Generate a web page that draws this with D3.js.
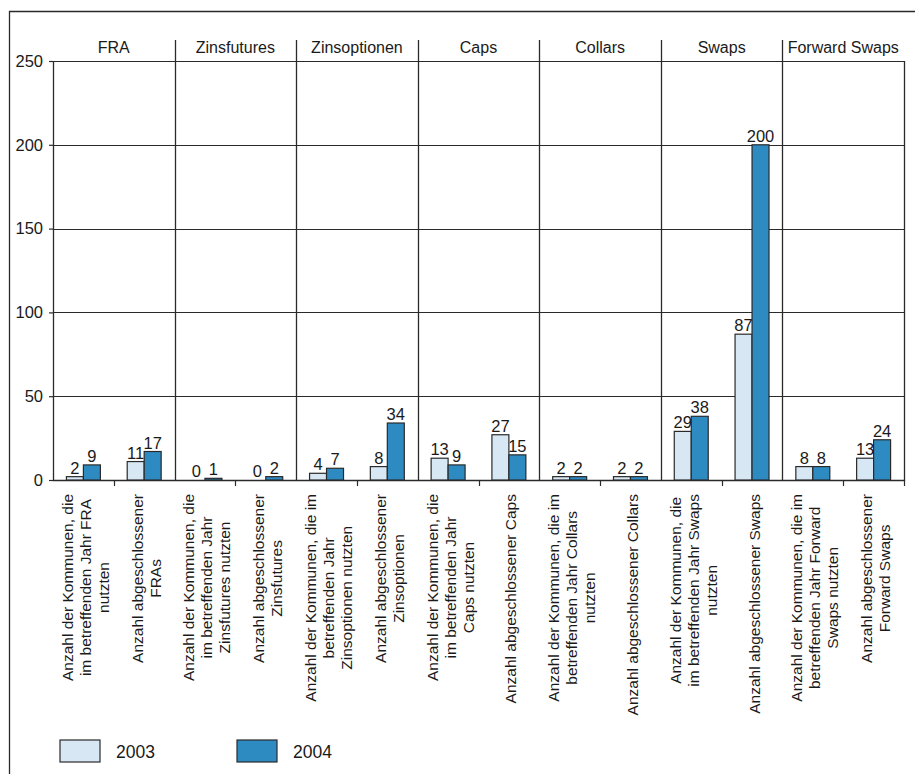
<!DOCTYPE html>
<html>
<head>
<meta charset="utf-8">
<script src="https://cdn.jsdelivr.net/npm/d3@7"></script>
<style>
  body { margin: 0; background: #fff; }
  svg { display: block; font-family: "Liberation Sans", Arial, sans-serif; }
</style>
</head>
<body>
<div id="chart"></div>
<script>
// Chart data
const groups = ['FRA', 'Zinsfutures', 'Zinsoptionen', 'Caps', 'Collars', 'Swaps', 'Forward Swaps'];
const categories = [
  ['Anzahl der Kommunen, die', 'im betreffenden Jahr FRA', 'nutzten'],
  ['Anzahl abgeschlossener', 'FRAs'],
  ['Anzahl der Kommunen, die', 'im betreffenden Jahr', 'Zinsfutures nutzten'],
  ['Anzahl abgeschlossener', 'Zinsfutures'],
  ['Anzahl der Kommunen, die im', 'betreffenden Jahr', 'Zinsoptionen nutzten'],
  ['Anzahl abgeschlossener', 'Zinsoptionen'],
  ['Anzahl der Kommunen, die', 'im betreffenden Jahr', 'Caps nutzten'],
  ['Anzahl abgeschlossener Caps'],
  ['Anzahl der Kommunen, die im', 'betreffenden Jahr Collars', 'nutzten'],
  ['Anzahl abgeschlossener Collars'],
  ['Anzahl der Kommunen, die', 'im betreffenden Jahr Swaps', 'nutzten'],
  ['Anzahl abgeschlossener Swaps'],
  ['Anzahl der Kommunen, die im', 'betreffenden Jahr Forward', 'Swaps nutzten'],
  ['Anzahl abgeschlossener', 'Forward Swaps']
];
const years = ['2003', '2004'];
const values2003 = [2, 11, 0, 0, 4, 8, 13, 27, 2, 2, 29, 87, 8, 13];
const values2004 = [9, 17, 1, 2, 7, 34, 9, 15, 2, 2, 38, 200, 8, 24];
const yTicks = [0, 50, 100, 150, 200, 250];

const colors = { '2003': '#d7e7f4', '2004': '#2e8bc2' };
const stroke = '#2a2a2a';

function drawChart() {
  const W = 915, H = 774;
  const plot = { left: 53, right: 904, top: 61, bottom: 480 };

  const svg = d3.select('#chart').append('svg')
    .attr('width', W)
    .attr('height', H);

  // outer frame (top + left edges are visible, the rest is cropped)
  svg.append('path')
    .attr('d', `M9.5,${H} V11.5 H${W}`)
    .attr('fill', 'none')
    .attr('stroke', stroke)
    .attr('stroke-width', 1.3);

  // scales
  const x = d3.scaleBand()
    .domain(d3.range(categories.length))
    .range([plot.left, plot.right]);
  const xInner = d3.scaleBand()
    .domain(years)
    .range([0, x.bandwidth()])
    .paddingInner(0)
    .paddingOuter(0.79);
  const y = d3.scaleLinear()
    .domain([0, 250])
    .range([plot.bottom, plot.top]);

  // horizontal gridlines
  svg.append('g')
    .selectAll('line')
    .data(yTicks.filter(d => d > 0))
    .join('line')
    .attr('x1', plot.left)
    .attr('x2', plot.right)
    .attr('y1', d => Math.round(y(d)) + 0.5)
    .attr('y2', d => Math.round(y(d)) + 0.5)
    .attr('stroke', stroke)
    .attr('stroke-width', 1.2);

  // y axis
  const yAxis = d3.axisLeft(y)
    .tickValues(yTicks)
    .tickSize(4)
    .tickPadding(6);
  const yg = svg.append('g')
    .attr('transform', `translate(${plot.left},0)`)
    .call(yAxis);
  yg.select('.domain').remove();
  yg.selectAll('.tick line').attr('stroke', stroke).attr('stroke-width', 1.2);
  yg.selectAll('.tick text')
    .attr('font-size', 16.5)
    .attr('fill', '#1a1a1a')
    .attr('font-family', 'inherit');

  // plot frame: left, right, baseline
  svg.append('path')
    .attr('d', `M${plot.left + 0.5},${plot.top} V${plot.bottom + 0.5} H${plot.right + 0.5} V${plot.top}`)
    .attr('fill', 'none')
    .attr('stroke', stroke)
    .attr('stroke-width', 1.3);

  // group separators extend into the header row
  const groupEdges = d3.range(1, groups.length).map(g => x(g * 2));
  svg.append('g')
    .selectAll('line')
    .data(groupEdges)
    .join('line')
    .attr('x1', d => Math.round(d) + 0.5)
    .attr('x2', d => Math.round(d) + 0.5)
    .attr('y1', 40)
    .attr('y2', plot.bottom)
    .attr('stroke', stroke)
    .attr('stroke-width', 1.3);

  // small ticks between the two categories of a group and at the right end
  const tickEdges = d3.range(groups.length).map(g => x(g * 2 + 1)).concat([plot.right]);
  svg.append('g')
    .selectAll('line')
    .data(tickEdges)
    .join('line')
    .attr('x1', d => Math.round(d) + 0.5)
    .attr('x2', d => Math.round(d) + 0.5)
    .attr('y1', plot.bottom)
    .attr('y2', plot.bottom + 6)
    .attr('stroke', stroke)
    .attr('stroke-width', 1.2);

  // group headers
  svg.append('g')
    .selectAll('text')
    .data(groups)
    .join('text')
    .attr('x', (d, g) => (x(g * 2) + x(g * 2 + 1) + x.bandwidth()) / 2)
    .attr('y', 53)
    .attr('text-anchor', 'middle')
    .attr('font-size', 16)
    .attr('fill', '#1a1a1a')
    .text(d => d);

  // bars
  const rows = categories.map((c, i) => ({ i, values: [values2003[i], values2004[i]] }));
  const cat = svg.append('g')
    .selectAll('g')
    .data(rows)
    .join('g')
    .attr('transform', d => `translate(${x(d.i)},0)`);

  cat.selectAll('rect')
    .data(d => d.values.map((v, k) => ({ year: years[k], value: v })))
    .join('rect')
    .attr('x', d => xInner(d.year))
    .attr('y', d => y(d.value))
    .attr('width', xInner.bandwidth())
    .attr('height', d => y(0) - y(d.value))
    .attr('fill', d => colors[d.year])
    .attr('stroke', d => d.value > 0 ? stroke : 'none')
    .attr('stroke-width', 1.2);

  // value labels
  cat.selectAll('text')
    .data(d => d.values.map((v, k) => ({ year: years[k], value: v })))
    .join('text')
    .attr('x', d => xInner(d.year) + xInner.bandwidth() / 2)
    .attr('y', d => y(d.value) - 3)
    .attr('text-anchor', 'middle')
    .attr('font-size', 16.5)
    .attr('fill', '#1a1a1a')
    .text(d => d.value);

  // rotated category labels, block aligned at the axis, lines centred
  const lineH = 18;
  const labels = svg.append('g')
    .selectAll('g')
    .data(categories)
    .join('g')
    .attr('transform', (d, i) => `translate(${x(i) + x.bandwidth() / 2 + 2},494) rotate(-90)`);

  labels.each(function(lines) {
    const g = d3.select(this);
    const texts = g.selectAll('text')
      .data(lines)
      .join('text')
      .attr('text-anchor', 'middle')
      .attr('dominant-baseline', 'central')
      .attr('font-size', 15.5)
      .attr('fill', '#1a1a1a')
      .attr('y', (d, k) => (k - (lines.length - 1) / 2) * lineH)
      .text(d => d);
    const maxLen = d3.max(texts.nodes(), n => n.getComputedTextLength());
    texts.attr('x', -maxLen / 2);
  });

  // legend
  const legend = svg.append('g')
    .selectAll('g')
    .data(years)
    .join('g')
    .attr('transform', (d, k) => `translate(${60 + k * 177},740)`);
  legend.append('rect')
    .attr('width', 40)
    .attr('height', 22)
    .attr('fill', d => colors[d])
    .attr('stroke', stroke)
    .attr('stroke-width', 1.2);
  legend.append('text')
    .attr('x', 56)
    .attr('y', 18)
    .attr('font-size', 17.5)
    .attr('fill', '#1a1a1a')
    .text(d => d);
}

document.addEventListener('DOMContentLoaded', drawChart);
</script>
</body>
</html>
